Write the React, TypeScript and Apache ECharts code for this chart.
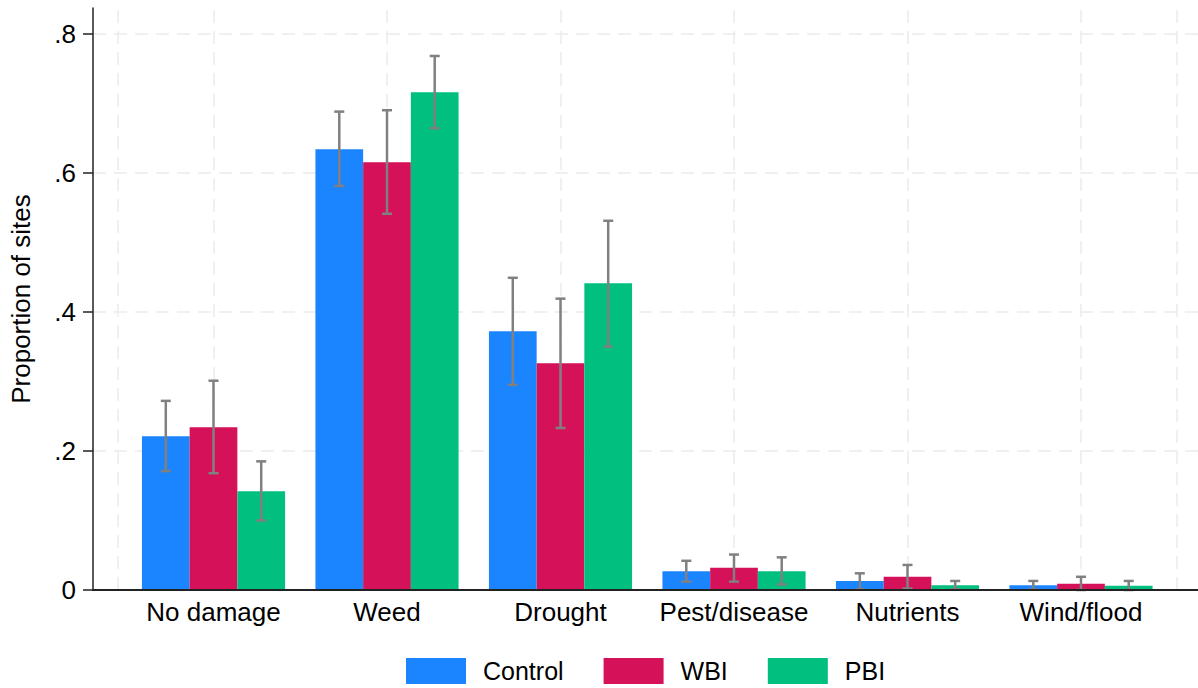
import React, { useEffect, useRef } from "react";
import * as echarts from "echarts";

const categories = ["No damage", "Weed", "Drought", "Pest/disease", "Nutrients", "Wind/flood"];
const seriesNames = ["Control", "WBI", "PBI"];

const controlValues = [0.221, 0.634, 0.372, 0.027, 0.013, 0.007];
const controlLow = [0.171, 0.581, 0.295, 0.012, 0.001, 0.0005];
const controlHigh = [0.272, 0.688, 0.449, 0.042, 0.024, 0.013];

const wbiValues = [0.234, 0.615, 0.326, 0.032, 0.019, 0.009];
const wbiLow = [0.168, 0.541, 0.233, 0.012, 0.002, 0];
const wbiHigh = [0.301, 0.69, 0.419, 0.051, 0.036, 0.019];

const pbiValues = [0.142, 0.716, 0.441, 0.027, 0.007, 0.006];
const pbiLow = [0.1, 0.664, 0.35, 0.008, 0.001, 0];
const pbiHigh = [0.185, 0.768, 0.531, 0.047, 0.013, 0.013];

const yTicks = [0, 0.2, 0.4, 0.6, 0.8];
const yGridValues = [0.2, 0.4, 0.6, 0.8];
// vertical grid lines, in category-index units
const xGridValues = [-0.55, 0, 1, 2, 3, 4, 5, 5.55];

const colors = ["#1A85FF", "#D41159", "#00BF7F"];
const FONT = "'Liberation Sans', Arial, Helvetica, sans-serif";
const FS = 26;

const Y_MAX = 0.837;
const X_MIN = -0.6945;
const X_MAX = 5.6744;
const GROUP_FILL = 0.825;

export default function App() {
  const ref = useRef<HTMLDivElement>(null);

  useEffect(() => {
    document.body.style.margin = "0";
    const chart = echarts.init(ref.current!, null, { renderer: "svg" });

    const values = [controlValues, wbiValues, pbiValues];
    const lows = [controlLow, wbiLow, pbiLow];
    const highs = [controlHigh, wbiHigh, pbiHigh];

    const errData: number[][] = [];
    for (let k = 0; k < 3; k++) {
      for (let i = 0; i < categories.length; i++) {
        errData.push([i, k, lows[k][i], highs[k][i]]);
      }
    }

    const gridLineStyle = { color: "#ebebeb", width: 1.5, type: [13, 8] as any };

    chart.setOption({
      animation: false,
      backgroundColor: "#ffffff",
      textStyle: { fontFamily: FONT },
      grid: [
        { left: 93, right: 0, top: 8, bottom: 98, containLabel: false, outerBoundsMode: "none" },
        { left: 126.75, width: 1041, top: 8, bottom: 98, containLabel: false, outerBoundsMode: "none" },
      ],
      legend: {
        data: seriesNames,
        left: 406,
        top: 658,
        padding: 0,
        icon: "rect",
        itemWidth: 60,
        itemHeight: 26,
        itemGap: 40,
        textStyle: { fontSize: FS - 1, color: "#000", fontFamily: FONT, padding: [0, 0, 0, 12] },
      },
      xAxis: [
        {
          type: "value",
          gridIndex: 0,
          min: X_MIN,
          max: X_MAX,
          z: 5,
          axisLine: { show: true, onZero: false, lineStyle: { color: "#222", width: 2 } },
          axisTick: { show: false },
          axisLabel: { show: false },
          splitLine: { show: false },
        },
        {
          type: "category",
          gridIndex: 1,
          data: categories,
          axisLine: { show: false },
          axisTick: { show: false },
          splitLine: { show: false },
          axisLabel: { interval: 0, fontSize: FS, color: "#000", fontFamily: FONT, margin: 9 },
        },
      ],
      yAxis: [
        {
          type: "value",
          gridIndex: 0,
          min: 0,
          max: Y_MAX,
          interval: 0.2,
          z: 5,
          axisLine: { show: true, onZero: false, lineStyle: { color: "#222", width: 1.5 } },
          axisTick: { show: true, length: 10, customValues: yTicks, lineStyle: { color: "#222", width: 1.5 } },
          axisLabel: {
            customValues: yTicks,
            fontSize: FS,
            color: "#000",
            fontFamily: FONT,
            margin: 17,
            formatter: (v: number) => (v === 0 ? "0" : v.toFixed(1).replace(/^0/, "")),
          },
          splitLine: { show: false },
          name: "Proportion of sites",
          nameLocation: "middle",
          nameRotate: 90,
          nameGap: 59,
          nameTextStyle: { fontSize: FS, color: "#000", fontFamily: FONT },
        },
        {
          type: "value",
          gridIndex: 1,
          min: 0,
          max: Y_MAX,
          show: false,
          splitLine: { show: false },
        },
      ],
      series: [
        {
          type: "line",
          xAxisIndex: 0,
          yAxisIndex: 0,
          data: [[0, 0]],
          showSymbol: false,
          symbol: "none",
          lineStyle: { opacity: 0 },
          silent: true,
          z: 0,
          markLine: {
            silent: true,
            z: 0,
            symbol: "none",
            label: { show: false },
            lineStyle: gridLineStyle,
            data: [
              ...xGridValues.map((v) => ({ xAxis: v })),
              ...yGridValues.map((v) => ({ yAxis: v })),
            ],
          },
        },
        ...seriesNames.map((name, k) => ({
          name,
          type: "bar",
          xAxisIndex: 1,
          yAxisIndex: 1,
          data: values[k],
          barGap: "0%",
          barCategoryGap: `${((1 - GROUP_FILL) * 100).toFixed(1)}%`,
          itemStyle: { color: colors[k] },
          z: 2,
        })),
        {
          type: "custom",
          xAxisIndex: 1,
          yAxisIndex: 1,
          z: 3,
          silent: true,
          data: errData,
          encode: { x: 0, y: [2, 3] },
          renderItem: (params: any, api: any) => {
            const cat = api.value(0);
            const k = api.value(1);
            const lo = api.value(2);
            const hi = api.value(3);
            const band = api.size([1, 0])[0];
            const barW = (band * GROUP_FILL) / 3;
            const base = api.coord([cat, lo]);
            const top = api.coord([cat, hi]);
            const cx = base[0] + (k - 1) * barW;
            const cap = 5;
            const style = { stroke: "#808080", lineWidth: 2.5, fill: "none" };
            return {
              type: "group",
              children: [
                { type: "line", shape: { x1: cx, y1: base[1], x2: cx, y2: top[1] }, style },
                { type: "line", shape: { x1: cx - cap, y1: top[1], x2: cx + cap, y2: top[1] }, style },
                { type: "line", shape: { x1: cx - cap, y1: base[1], x2: cx + cap, y2: base[1] }, style },
              ],
            };
          },
        },
      ],
    });

    return () => chart.dispose();
  }, []);

  return <div ref={ref} style={{ width: 1198, height: 688, overflow: "hidden" }} />;
}
